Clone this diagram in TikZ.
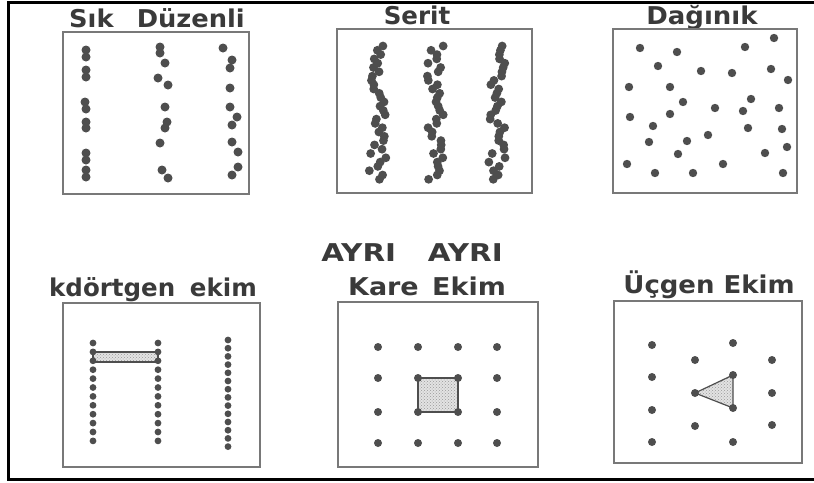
\documentclass[tikz,border=0pt]{standalone}
\usepackage{fontspec}
\setmainfont{DejaVu Sans}
\usetikzlibrary{patterns}
\definecolor{inkgray}{RGB}{58,58,58}
\definecolor{boxgray}{RGB}{120,120,120}
\definecolor{dotgray}{RGB}{78,78,78}
\tikzset{
  frameln/.style={line width=3pt, black},
  plotbox/.style={draw=boxgray, line width=1.6pt},
  title/.style={anchor=base, inner sep=0pt, text=inkgray,
    font=\bfseries\fontsize{24.5}{28}\selectfont},
  areafill/.style={draw=dotgray, line width=1.2pt,
    preaction={fill=gray!22}, pattern=crosshatch dots, pattern color=gray!80},
}
\newcommand{\plant}[2]{\fill[dotgray] #2 circle (#1);}

\begin{document}
\begin{tikzpicture}[x=1pt,y=-1pt]
  \useasboundingbox (0,0) rectangle (814,482);
  % outer frame (open on the right)
  \draw[frameln] (814,2) -- (8,2) -- (8,479) -- (814,479);

  % --- top row ---
  \node[title] (tsik) at (157,27) {\scalebox{1.05}[1]{Sık\hspace{0.9em}Düzenli}};
  \node[title] (tserit) at (417,24) {Serit};
  \node[title] (tdag) at (702,24) {\scalebox{1.06}[1]{Dağınık}};
  \draw[plotbox] (63,32) rectangle (249,194);
  \draw[plotbox] (337,29) rectangle (532,193);
  \draw[plotbox] (613,29) rectangle (797,193);

  % sik duzenli: paired dots in rows
  \foreach \p in {(86,50),(86,57),(86,70),(86,77),(85,102),(86,109),(86,122),
      (86,128),(86,153),(86,160),(86,170),(86,177),
      (160,47),(160,53),(165,63),(158,78),(168,85),(165,107),(167,122),
      (165,128),(160,143),(162,170),(168,178),
      (223,48),(232,60),(230,68),(230,88),(230,107),(237,117),(232,125),
      (232,142),(238,152),(238,167),(232,175)}
    {\plant{4.5pt}{\p}}

  % serit: dense bands
  \pgfmathsetseed{11}
  \foreach \cx in {377,435,497} {
    \foreach \i in {0,...,31} {
      \pgfmathsetmacro{\yy}{46+\i*4.3}
      \pgfmathsetmacro{\xx}{\cx+9*rand}
      \plant{4.4pt}{(\xx,\yy)}
    }
  }

  % daginik: scattered
  \foreach \p in {(640,48),(677,52),(745,47),(774,38),(658,66),(701,71),
      (732,73),(771,69),(788,80),(629,87),(670,87),(683,102),(715,108),
      (751,99),(743,111),(779,108),(630,117),(670,114),(653,126),(708,135),
      (748,128),(782,129),(649,142),(687,141),(678,154),(765,153),(787,147),
      (627,164),(655,173),(693,173),(723,164),(783,173)}
    {\plant{4.2pt}{\p}}

  % --- bottom row ---
  \node[title] (tayri) at (412,261) {\scalebox{1.2}[1]{AYRI}\hspace{1.3em}\scalebox{1.2}[1]{AYRI}};
  \node[title] (tkare) at (427,295) {\scalebox{1.1}[1]{Kare\hspace{0.5em}Ekim}};
  \node[title] (tdort) at (153,296) {kdörtgen\hspace{0.6em}ekim};
  \node[title] (tucg) at (709,293) {\scalebox{1.06}[1]{Üçgen Ekim}};
  \draw[plotbox] (63,303) rectangle (260,467);
  \draw[plotbox] (338,302) rectangle (538,467);
  \draw[plotbox] (614,301) rectangle (802,463);

  % dikdortgen: close rows, wide spacing
  \draw[areafill] (93,352) rectangle (158,362);
  \foreach \i in {0,...,11} {
    \plant{3.4pt}{(93,343+\i*8.9)}
    \plant{3.4pt}{(158,343+\i*8.9)}
  }
  \foreach \i in {0,...,13} {\plant{3.4pt}{(228,340+\i*8.2)}}

  % kare ekim
  \draw[areafill] (418,378) rectangle (458,412);
  \foreach \x in {378,418,458,497}
    \foreach \y in {347,378,412,443}
      {\plant{4pt}{(\x,\y)}}

  % ucgen ekim
  \draw[areafill] (695,393) -- (733,375) -- (733,408) -- cycle;
  \foreach \p in {(652,345),(652,377),(652,410),(652,442),
      (695,360),(695,393),(695,426),
      (733,343),(733,375),(733,408),(733,442),
      (772,360),(772,393),(772,425)}
    {\plant{4pt}{\p}}
\end{tikzpicture}
\end{document}
